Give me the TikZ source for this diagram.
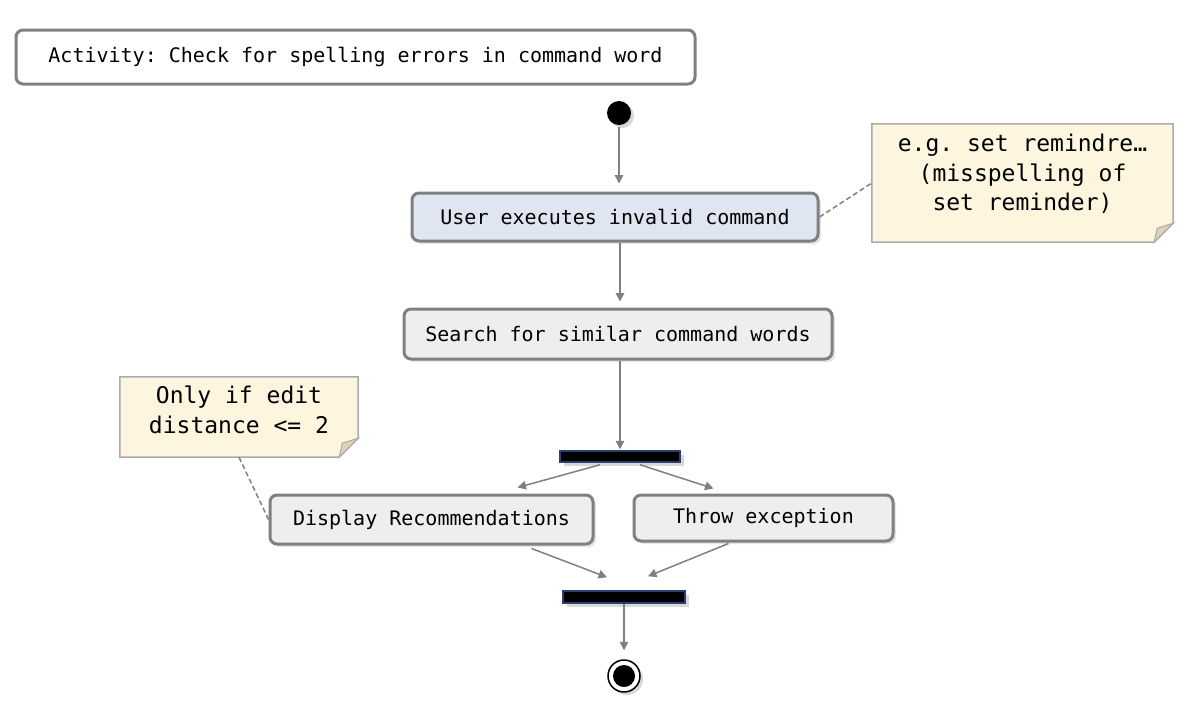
\documentclass[tikz,border=0pt]{standalone}
\usepackage{fontspec}
\setmonofont{DejaVu Sans Mono}
\usetikzlibrary{arrows.meta,calc,shadows}
\definecolor{bordergray}{HTML}{808080}
\definecolor{boxgray}{HTML}{EEEEEE}
\definecolor{boxblue}{HTML}{DFE5F1}
\definecolor{notefill}{HTML}{FDF5DE}
\definecolor{noteedge}{HTML}{ABABAB}
\definecolor{notefold}{HTML}{DDD3B2}
\definecolor{barnavy}{HTML}{2A3F6E}
\tikzset{
  actbox/.style={draw=bordergray, line width=3pt, rounded corners=7pt, fill=boxgray,
    inner sep=0pt, font=\fontsize{20}{24}\selectfont\ttfamily,
    drop shadow={shadow xshift=3pt, shadow yshift=-3pt, opacity=0.2}},
  titlebox/.style={draw=bordergray, line width=3pt, rounded corners=7pt, fill=white,
    inner sep=0pt, font=\fontsize{20}{24}\selectfont\ttfamily},
  notebox/.style={draw=none, inner sep=0pt, align=center,
    font=\fontsize{23}{29.5}\selectfont\ttfamily},
  syncbar/.style={draw=barnavy, line width=1.5pt, fill=black, inner sep=0pt,
    drop shadow={shadow xshift=4pt, shadow yshift=-4pt, opacity=0.3}},
  flow/.style={draw=bordergray, line width=1.5pt, -{Triangle[length=8.5pt,width=8.5pt]}},
  anchorline/.style={draw=bordergray, line width=1.5pt, dash pattern=on 5pt off 3pt},
}
\newcommand{\notepath}[1]{%
  \path[fill=notefill, draw=noteedge, line width=1.5pt]
    (#1.north west) -- (#1.north east) -- ($(#1.south east)+(0,-19)$)
    -- ($(#1.south east)+(-19,0)$) -- (#1.south west) -- cycle;
  \path[fill=notefold, draw=noteedge, line width=1pt]
    ($(#1.south east)+(0,-19)$) -- ($(#1.south east)+(-16,-14)$)
    -- ($(#1.south east)+(-19,0)$) -- cycle;}
\begin{document}
\begin{tikzpicture}[x=1pt,y=-1pt]
\useasboundingbox (0,0) rectangle (1198,710);
\fill[white] (0,0) rectangle (1198,710);

\node[titlebox, minimum width=679pt, minimum height=54pt] (title) at (355.5,57)
  {Activity: Check for spelling errors in command word};

\node[circle, fill=black, minimum size=24pt, inner sep=0pt,
  drop shadow={shadow xshift=3pt, shadow yshift=-3pt, opacity=0.3}] (start) at (619,113) {};

\node[actbox, fill=boxblue, minimum width=406pt, minimum height=48pt] (b1) at (615,217)
  {User executes invalid command};

\node[notebox, minimum width=301pt, minimum height=118pt] (n1) at (1022.5,183) {};
\notepath{n1}
\node[notebox] (n1t) at (1022.5,174) {e.g. set remindre…\\(misspelling of\\set reminder)};

\node[actbox, minimum width=428pt, minimum height=50pt] (b2) at (618,334)
  {Search for similar command words};

\node[syncbar, minimum width=120pt, minimum height=11pt] (fork) at (620,456.5) {};

\node[actbox, minimum width=323pt, minimum height=49pt] (b3) at (431.5,519.5)
  {Display Recommendations};
\node[actbox, minimum width=259pt, minimum height=46pt] (b4) at (763.5,518)
  {Throw exception};

\node[notebox, minimum width=238pt, minimum height=80pt] (n2) at (239,417) {};
\notepath{n2}
\node[notebox] (n2t) at (239,410) {Only if edit\\distance <= 2};

\node[syncbar, minimum width=122pt, minimum height=12pt] (join) at (624,597) {};

\node[circle, draw=black, line width=1.5pt, fill=white, minimum size=32pt, inner sep=0pt,
  drop shadow={shadow xshift=3pt, shadow yshift=-3pt, opacity=0.3}] (end) at (624,676) {};
\node[circle, fill=black, minimum size=22pt, inner sep=0pt] (endin) at (end.center) {};

% connectors
\draw[flow, shorten <=2pt, shorten >=8pt] (start.south) -- (b1.north -| start.south);
\draw[flow, shorten >=6pt] (b1.south -| fork.north) -- (b2.north -| fork.north);
\draw[flow, shorten >=1pt] (b2.south -| fork.north) -- (fork.north);
\draw[flow] ($(fork.south)+(-20,2)$) -- ($(b3.north)+(86,-6)$);
\draw[flow] ($(fork.south)+(20,2)$) -- ($(b4.north)+(-50,-5)$);
\draw[flow] ($(b3.south)+(100,3)$) -- ($(join.north)+(-17,-13)$);
\draw[flow] ($(b4.south)+(-35,1)$) -- ($(join.north)+(24,-14)$);
\draw[flow, shorten >=9pt] (join.south) -- (end.north);

\draw[anchorline] (b1.east) -- (n1.west);
\draw[anchorline] (n2.south) -- (b3.west);
\end{tikzpicture}
\end{document}
